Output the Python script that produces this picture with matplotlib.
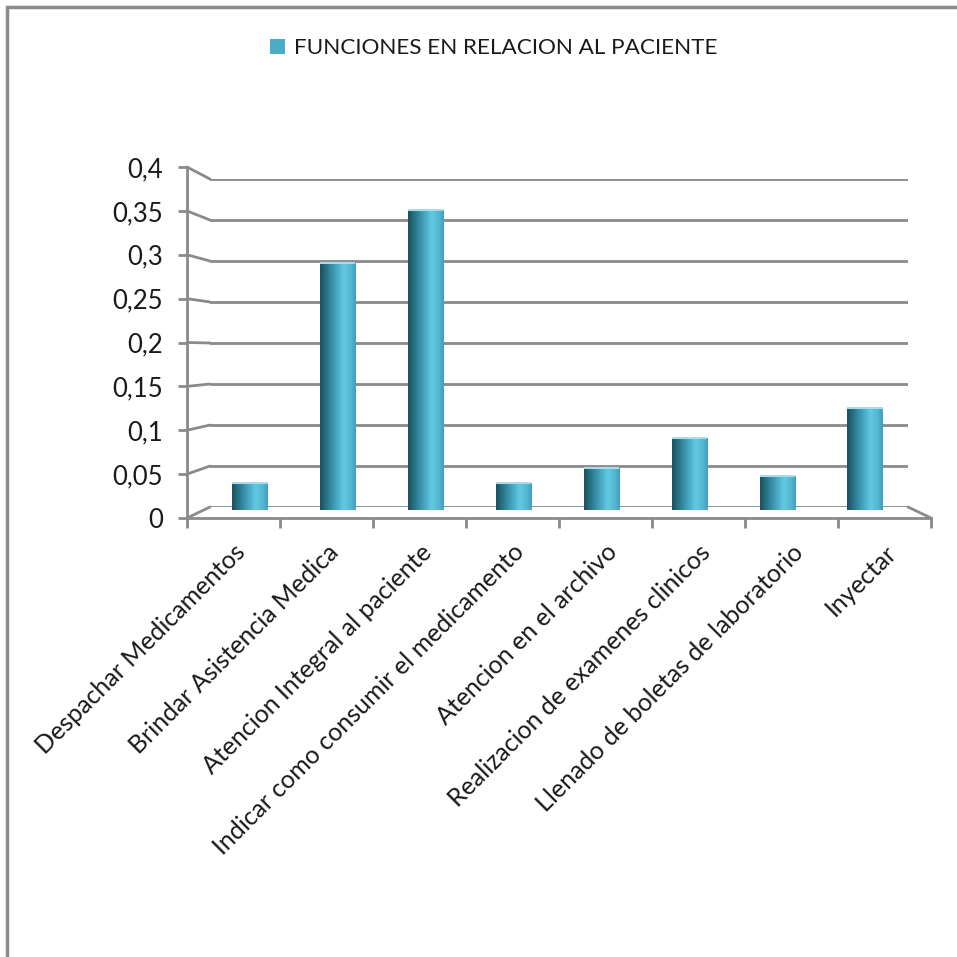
import numpy as np
import matplotlib
matplotlib.use('Agg')
import matplotlib.pyplot as plt
from matplotlib.patches import ConnectionPatch, Rectangle
from matplotlib.colors import LinearSegmentedColormap
from matplotlib.ticker import FuncFormatter

# Data
categories = ['Despachar Medicamentos', 'Brindar Asistencia Medica',
              'Atencion Integral al paciente', 'Indicar como consumir el medicamento',
              'Atencion en el archivo', 'Realizacion de examenes clinicos',
              'Llenado de boletas de laboratorio', 'Inyectar']
values = [0.032, 0.294, 0.357, 0.032, 0.050, 0.086, 0.041, 0.122]
series_name = 'FUNCIONES EN RELACION AL PACIENTE'
yticks = [0, 0.05, 0.1, 0.15, 0.2, 0.25, 0.3, 0.35, 0.4]

plt.rcParams['font.family'] = ['Lato', 'DejaVu Sans']

W = H = 957
fig = plt.figure(figsize=(W / 100, H / 100), dpi=100)


def px_axes(left, top, right, bottom, **kw):
    # axes placed by pixel edges
    return fig.add_axes([left / W, 1 - bottom / H, (right - left) / W, (bottom - top) / H], **kw)


grid_col = '#8a8a8a'
n = len(categories)

# back wall (gridlines)
back = px_axes(210, 179, 908, 507)
back.set_xlim(0, n)
back.set_ylim(0, 0.4)
back.axis('off')
for t in yticks:
    back.axhline(t, color=grid_col, lw=2, zorder=1)

# bars
bax = px_axes(206, 174, 909, 510)
bax.set_xlim(0, n)
bax.set_ylim(0, 0.4)
bax.axis('off')
bax.patch.set_alpha(0)
x = np.arange(n) + 0.5
bars = bax.bar(x, values, width=0.4, color='none', edgecolor='none', label=series_name)
cmap = LinearSegmentedColormap.from_list('cyl', [(0, '#1b4e5e'), (0.3, '#338aa2'),
                                                 (0.65, '#62c8e4'), (0.85, '#55b8d4'),
                                                 (1, '#3f9fbb')])
grad = np.linspace(0, 1, 256).reshape(1, -1)
for p in bars.patches:
    im = bax.imshow(grad, cmap=cmap, aspect='auto', interpolation='bicubic',
                    extent=(p.get_x(), p.get_x() + p.get_width(), 0, p.get_height()), zorder=3)
    im.set_clip_path(p)
bax.hlines(values, x - 0.2, x + 0.2, color='#a9dbe9', lw=1.5, zorder=4)
bax.set_xlim(0, n)
bax.set_ylim(0, 0.4)

# front axes (labelled y axis + front floor edge)
front = px_axes(187, 167, 931, 518)
front.set_xlim(0, n)
front.set_ylim(0, 0.4)
front.patch.set_alpha(0)
for s in ['top', 'right']:
    front.spines[s].set_visible(False)
for s in ['left', 'bottom']:
    front.spines[s].set_color(grid_col)
    front.spines[s].set_linewidth(2)
front.set_yticks(yticks)
front.yaxis.set_major_formatter(FuncFormatter(lambda v, _: ('%g' % v).replace('.', ',')))
front.tick_params(axis='y', length=6.5, width=2, color=grid_col, pad=11, labelsize=18.5,
                  labelcolor='#1a1a1a')
front.set_xticks(np.arange(n + 1))
front.set_xticklabels([])
front.set_xticks(x, minor=True)
front.set_xticklabels(categories, minor=True, rotation=45, ha='right',
                      rotation_mode='anchor', fontsize=18, color='#1a1a1a')
front.tick_params(axis='x', which='major', length=7.5, width=2, color=grid_col)
front.tick_params(axis='x', which='minor', length=0, pad=16)

# side wall and floor edges joining front axis to back wall
for t in yticks:
    fig.add_artist(ConnectionPatch(xyA=(0, t), coordsA=front.transData,
                                   xyB=(0, t), coordsB=back.transData,
                                   color=grid_col, lw=2))
fig.add_artist(ConnectionPatch(xyA=(n, 0), coordsA=front.transData,
                               xyB=(n, 0), coordsB=back.transData,
                               color=grid_col, lw=2))

# legend
fig.legend(handles=[bars], loc='center', bbox_to_anchor=(494 / W, 1 - 48 / H),
           frameon=False, fontsize=16.2, handlelength=0.65, handleheight=0.65,
           handletextpad=0.4, labelcolor='#1a1a1a')
leg = fig.legends[0]
for h in leg.legend_handles:
    h.set_facecolor('#4bacc6')

# chart frame
fig.add_artist(Rectangle((7 / W, -0.1), 1.2, 1 - 7 / H + 0.1, transform=fig.transFigure,
                         fill=False, edgecolor='#8c8c8c', lw=2.5))

fig.savefig('out.png', dpi=100)
